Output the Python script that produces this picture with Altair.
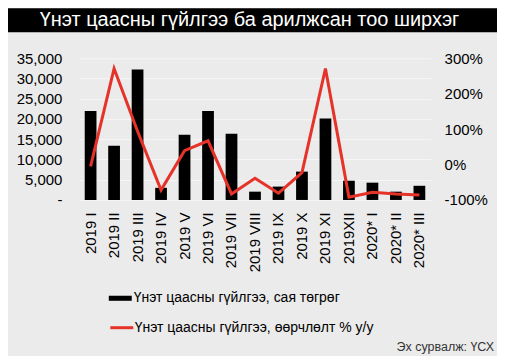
import altair as alt
import pandas as pd

categories = ["2019 I", "2019 II", "2019 III", "2019 IV", "2019 V", "2019 VI", "2019 VII",
              "2019 VIII", "2019 IX", "2019 X", "2019 XI", "2019XII", "2020* I", "2020* II", "2020* III"]
volume = [22000, 13400, 32200, 3000, 16100, 22000, 16350, 2050, 3300, 7000, 20100, 4750, 4270, 2050, 3500]
change = [-5, 271, 94, -72, 39, 67, -83, -39, -81, -23, 271, -92, -78, -83, -86]

bar_name = "Үнэт цаасны гүйлгээ, сая төгрөг"
line_name = "Үнэт цаасны гүйлгээ, өөрчлөлт  % у/у"
title_text = "Үнэт цаасны гүйлгээ ба арилжсан тоо ширхэг"
source_text = "Эх сурвалж: ҮСХ"

df = pd.DataFrame({"cat": categories, "volume": volume, "change": change,
                   "s1": bar_name, "s2": line_name})

FONT = "Liberation Sans"
RED = "#e63329"

xenc = alt.X("cat:N", sort=categories, title=None,
             scale=alt.Scale(paddingInner=0.5, paddingOuter=0.25),
             axis=alt.Axis(labelAngle=270, labelFontSize=15, labelPadding=12, ticks=False,
                           domain=False, labelColor="#000", labelFont=FONT))

bars = alt.Chart(df).mark_bar().encode(
    x=xenc,
    y=alt.Y("volume:Q", title=None, scale=alt.Scale(domain=[0, 35000], nice=False),
            axis=alt.Axis(values=[0, 5000, 10000, 15000, 20000, 25000, 30000, 35000],
                          labelExpr="datum.value == 0 ? '-' : format(datum.value, ',')",
                          labelFontSize=15, labelPadding=17, ticks=False, domain=False,
                          grid=True, gridColor="#f6f6f6", gridWidth=1, labelColor="#000",
                          labelFont=FONT)),
    color=alt.Color("s1:N", scale=alt.Scale(range=["#000000"]),
                    legend=alt.Legend(title=None, orient="none", legendX=30, legendY=229,
                                      symbolType="M-1,-0.22H1V0.22H-1Z", symbolSize=529,
                                      symbolStrokeWidth=0, symbolOpacity=1,
                                      labelFontSize=14, labelFont=FONT, labelLimit=400,
                                      labelOffset=2, padding=0, labelColor="#000")),
)

line = alt.Chart(df).mark_line(strokeWidth=3).encode(
    x=xenc,
    y=alt.Y("change:Q", title=None, scale=alt.Scale(domain=[-100, 300], nice=False),
            axis=alt.Axis(orient="right", values=[-100, 0, 100, 200, 300],
                          labelExpr="datum.value + '%'", labelFontSize=15, labelPadding=13,
                          ticks=False, domain=False, grid=False, labelColor="#000",
                          labelFont=FONT)),
    stroke=alt.Stroke("s2:N", scale=alt.Scale(range=[RED]),
                      legend=alt.Legend(title=None, orient="none", legendX=30, legendY=257,
                                        symbolType="stroke", symbolSize=529,
                                        symbolStrokeWidth=3,
                                        labelFontSize=14, labelFont=FONT, labelLimit=400,
                                        labelOffset=0, padding=0, labelColor="#000")),
)

tdf = pd.DataFrame({"t": [title_text]})
title_bar = alt.Chart(tdf).mark_rect(color="#000000").encode(
    x=alt.value(-71), x2=alt.value(420), y=alt.value(-50), y2=alt.value(-26))
title_txt = alt.Chart(tdf).mark_text(color="#ffffff", fontSize=20, font=FONT,
                                     align="center", baseline="middle").encode(
    x=alt.value(171), y=alt.value(-38), text="t:N")

sdf = pd.DataFrame({"t": [source_text]})
src = alt.Chart(sdf).mark_text(color="#333333", fontSize=12.5, font=FONT,
                               align="right", baseline="middle").encode(
    x=alt.value(416), y=alt.value(289), text="t:N")

chart = alt.layer(bars, line, title_bar, title_txt, src).resolve_scale(
    y="independent", color="independent"
).properties(
    width=353, height=142,
    autosize=alt.AutoSizeParams(type="none"),
    padding={"left": 71, "top": 50, "right": 66, "bottom": 156},
    background="#ebebeb",
).configure_view(stroke=None)

chart.save("out.html", embed_options={"renderer": "svg", "actions": False})
